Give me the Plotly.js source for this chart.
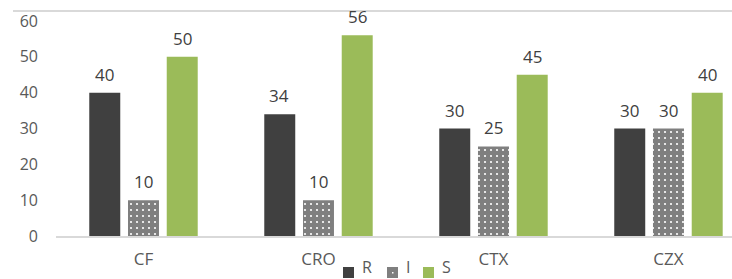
<!DOCTYPE html>
<html>
<head>
<meta charset="utf-8">
<script src="https://cdn.plot.ly/plotly-3.0.1.min.js"></script>
<style>html,body{margin:0;padding:0;background:#fff}#chart{width:732px;height:279px}</style>
</head>
<body>
<div id="chart"></div>
<script>
const categories = ["CF", "CRO", "CTX", "CZX"];
const seriesNames = ["R", "I", "S"];
const valuesR = [40, 34, 30, 30];
const valuesI = [10, 10, 25, 30];
const valuesS = [50, 56, 45, 40];
const yTicks = [0, 10, 20, 30, 40, 50, 60];

const colors = ["#404040", "#7f7f7f", "#9bbb59"];
const allValues = [valuesR, valuesI, valuesS];
const shifts = [-39, 0, 39];

// plot area in pixels
const PL = 56, PR = 732, PT = 21, PB = 236;
const px = v => (v - PL) / (PR - PL);
const py = v => (PB - v) / (PB - PT);

const traces = allValues.map((vals, i) => {
  const t = {
    type: "bar",
    name: seriesNames[i],
    x: categories,
    y: vals,
    marker: {color: colors[i], line: {width: 0}},
    hoverinfo: "none",
    showlegend: false
  };
  if (i === 1) {
    t.marker.pattern = {shape: ".", bgcolor: "#7f7f7f", fgcolor: "#ffffff", size: 6, solidity: 0.1, fillmode: "replace"};
  }
  return t;
});

const font = "Open Sans, DejaVu Sans, sans-serif";
const annotations = [];
allValues.forEach((vals, i) => {
  vals.forEach((v, j) => {
    annotations.push({
      x: categories[j], y: v, xref: "x", yref: "y",
      text: String(v), showarrow: false,
      xshift: shifts[i], yshift: 5, yanchor: "bottom",
      font: {family: font, size: 17, color: "#404040"}
    });
  });
});

// custom legend (swatch + label)
const legendSwatchX = [343, 387, 423];
const legendTextX = [361, 405, 441];
const legendY = 272.5;
const shapes = [{type: "line", xref: "paper", yref: "paper", x0: px(13), x1: px(740), y0: py(11), y1: py(11),
                 line: {color: "#d9d9d9", width: 2}}];
seriesNames.forEach((name, i) => {
  shapes.push({type: "rect", xref: "paper", yref: "paper",
               x0: px(legendSwatchX[i]), x1: px(legendSwatchX[i] + 11),
               y0: py(legendY - 5.5), y1: py(legendY + 5.5),
               fillcolor: colors[i], line: {width: 0}});
  if (i === 1) {
    shapes.push({type: "rect", xref: "paper", yref: "paper",
                 x0: px(legendSwatchX[i] + 5), x1: px(legendSwatchX[i] + 6.5),
                 y0: py(legendY - 0.5), y1: py(legendY + 1),
                 fillcolor: "#ffffff", line: {width: 0}});
  }
  annotations.push({x: px(legendTextX[i]), y: py(279), xref: "paper", yref: "paper",
                    xanchor: "left", yanchor: "bottom", text: name, showarrow: false, borderpad: 0,
                    font: {family: font, size: 16, color: "#595959"}});
});

const layout = {
  width: 732, height: 279,
  margin: {l: PL, r: 732 - PR, t: PT, b: 279 - PB},
  paper_bgcolor: "#ffffff", plot_bgcolor: "#ffffff",
  barmode: "group", bargap: 0.336, bargroupgap: 0.2,
  showlegend: false,
  font: {family: font, size: 15, color: "#595959"},
  xaxis: {
    type: "category", range: [-0.5, 3.363], showgrid: false, zeroline: false,
    showline: true, linecolor: "#d9d9d9", linewidth: 1.5,
    ticks: "", ticklabelstandoff: 7,
    tickfont: {size: 17, color: "#595959"}, fixedrange: true
  },
  yaxis: {
    range: [0, 60], tickvals: yTicks, showgrid: false, zeroline: false, showline: false,
    ticks: "", ticklabelstandoff: 17,
    tickfont: {size: 16, color: "#595959"}, fixedrange: true
  },
  annotations: annotations,
  shapes: shapes
};

Plotly.newPlot("chart", traces, layout, {displayModeBar: false, staticPlot: true});
</script>
</body>
</html>
